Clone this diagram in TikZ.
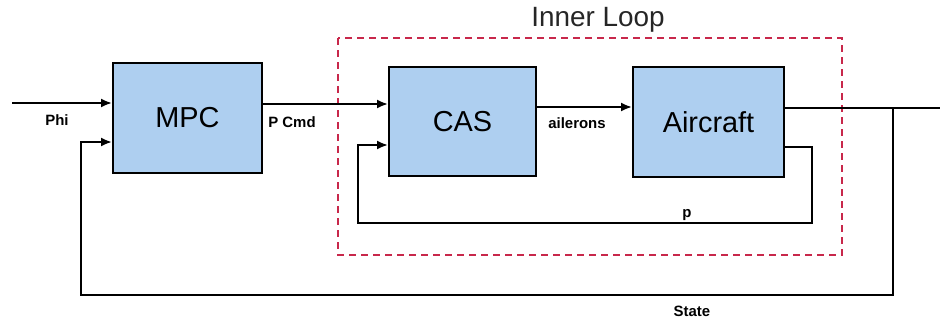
\documentclass[tikz,border=0pt]{standalone}
\usepackage{fontspec}
\setmainfont{Liberation Sans}
\usetikzlibrary{arrows.meta,calc}
\definecolor{blockfill}{RGB}{174,207,240}
\definecolor{loopred}{RGB}{200,40,75}
\tikzset{
  block/.style={draw=black, line width=2bp, fill=blockfill, rectangle,
    font=\fontsize{29}{33}\selectfont, inner sep=0pt},
  wire/.style={draw=black, line width=2bp, line join=miter},
  arr/.style={wire, -{Latex[length=11bp,width=9bp]}},
  sig/.style={font=\bfseries\fontsize{15}{18}\selectfont, inner sep=0pt},
  loopbox/.style={draw=loopred, line width=1.6bp, dash pattern=on 7bp off 5bp},
}
\begin{document}
\begin{tikzpicture}[x=1bp,y=-1bp]
\useasboundingbox (0,0) rectangle (940,322);

% dashed frame of the inner loop
\draw[loopbox] (338,38) rectangle (842,255);
\node[font=\fontsize{28}{32}\selectfont, text=black!85, inner sep=0pt] (innerlbl) at (598,20) {Inner Loop};

% blocks
\node[block, minimum width=149bp, minimum height=110bp] (MPC) at (187.5,118) {MPC};
\node[block, minimum width=147bp, minimum height=109bp] (CAS) at (462.5,121.5) {CAS};
\node[block, minimum width=151bp, minimum height=110bp] (AC) at (708.5,122) {Aircraft};

% reference input and command path
\coordinate (in) at (12,103);
\coordinate (cmd) at (0,104);
\coordinate (ail) at (0,107);
\coordinate (st) at (0,108);
\coordinate (out) at (940,108);
\draw[arr] (in) -- (in -| MPC.west);
\draw[arr] (MPC.east |- cmd) -- (CAS.west |- cmd);
\draw[arr] (CAS.east |- ail) -- (AC.west |- ail);
\draw[wire] (AC.east |- st) -- (out);

% inner rate feedback
\coordinate (pout) at (0,147);
\coordinate (pin) at (0,145);
\draw[arr] (AC.east |- pout) -- (812,147) -- (812,223) -- (358,223) -- (358,145) -- (CAS.west |- pin);

% outer state feedback
\coordinate (fbin) at (0,142);
\draw[arr] (893,108) -- (893,295) -- (81,295) -- (81,142) -- (MPC.west |- fbin);

% signal labels
\node[sig] (phi) at (57,120) {Phi};
\node[sig] (pcmd) at (292,122) {P Cmd};
\node[sig] (ailerons) at (577,123) {ailerons};
\node[sig] (p) at (687,215) {p};
\node[sig] (state) at (692,311) {State};
\end{tikzpicture}
\end{document}
